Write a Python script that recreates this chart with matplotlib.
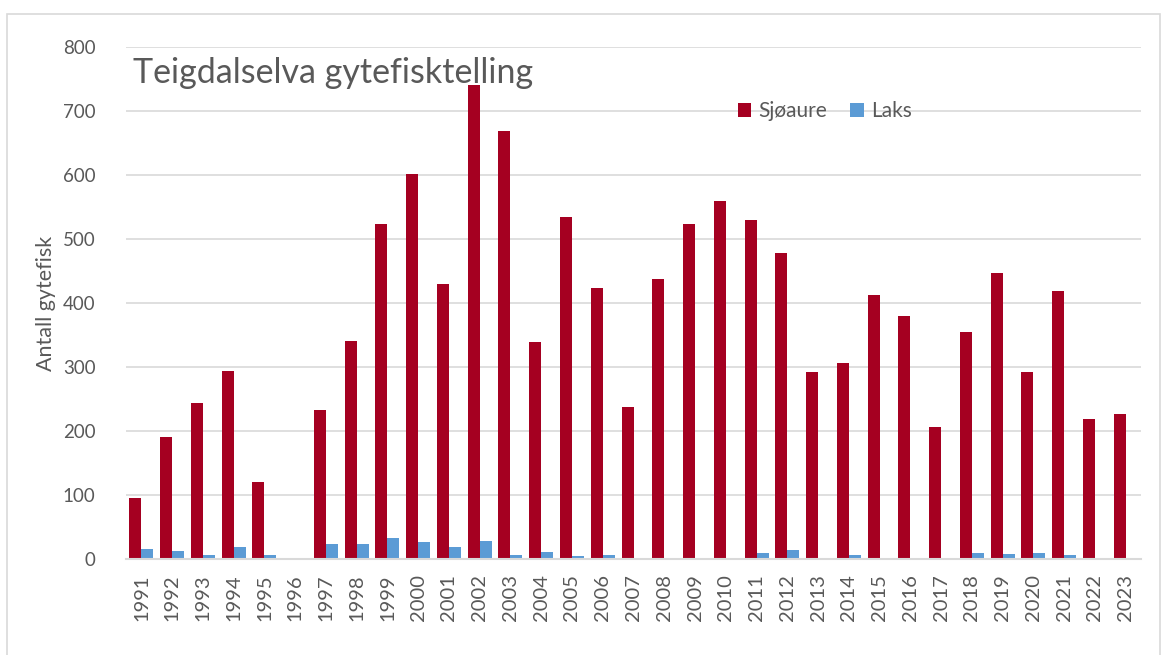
import matplotlib
matplotlib.use("agg")
import matplotlib.pyplot as plt
import numpy as np
from matplotlib.patches import Rectangle

years = [str(y) for y in range(1991, 2024)]
sjoaure = [96, 190, 244, 294, 120, 0, 233, 340, 524, 602, 429, 740, 669, 339, 535, 423,
           238, 437, 524, 559, 529, 478, 292, 306, 412, 380, 206, 355, 447, 292, 418, 218, 226]
laks = [16, 13, 6, 19, 6, 0, 24, 23, 33, 27, 19, 28, 7, 11, 5, 6,
        0, 1, 2, 0, 10, 14, 0, 7, 2, 1, 0, 10, 8, 10, 6, 0, 1]

RED = "#A50021"
BLUE = "#5B9BD5"
GREY = "#595959"

plt.rcParams["font.family"] = ["Lato", "DejaVu Sans"]

fig = plt.figure(figsize=(11.63, 6.55), dpi=100)
# chart frame
fig.patches.append(Rectangle((7 / 1163, -0.01), 1153 / 1163, 1 - 14 / 655 + 0.01,
                             transform=fig.transFigure, fill=False, edgecolor="#D9D9D9", lw=1.2))

ax = fig.add_axes([126 / 1163, 1 - 559 / 655, (1141 - 126) / 1163, (559 - 47) / 655])

x = np.arange(len(years))
w = 0.39
ax.bar(x - w / 2, sjoaure, width=w, color=RED, label="Sjøaure", zorder=3)
ax.bar(x + w / 2, laks, width=w, color=BLUE, label="Laks", zorder=3)

ax.set_xlim(-0.5, len(years) - 0.5)
ax.set_ylim(0, 800)
ax.set_yticks(range(0, 801, 100))
ax.set_xticks(x)
ax.set_xticklabels(years, rotation=90)
ax.grid(axis="y", color="#D9D9D9", lw=1.2, zorder=0)
for s in ["top", "right", "left"]:
    ax.spines[s].set_visible(False)
ax.spines["bottom"].set_color("#D9D9D9")
ax.spines["bottom"].set_linewidth(1.5)
ax.spines["bottom"].set_zorder(4)
ax.tick_params(axis="y", length=0, colors=GREY, labelsize=13.5, pad=22)
ax.tick_params(axis="x", length=0, colors=GREY, labelsize=14.5, pad=11)

ax.set_ylabel("Antall gytefisk", color=GREY, fontsize=15.5, labelpad=5)

fig.text(133 / 1163, 1 - 73 / 655, "Teigdalselva gytefisktelling", color=GREY,
         fontsize=24.5, va="center", ha="left")

ax.legend(loc="center", bbox_to_anchor=(825 / 1163, 1 - 111 / 655), bbox_transform=fig.transFigure,
          ncol=2, frameon=False, fontsize=15, labelcolor=GREY, handlelength=0.65, handleheight=0.65,
          handletextpad=0.35, columnspacing=1.1)

fig.savefig("out.png", dpi=100)
